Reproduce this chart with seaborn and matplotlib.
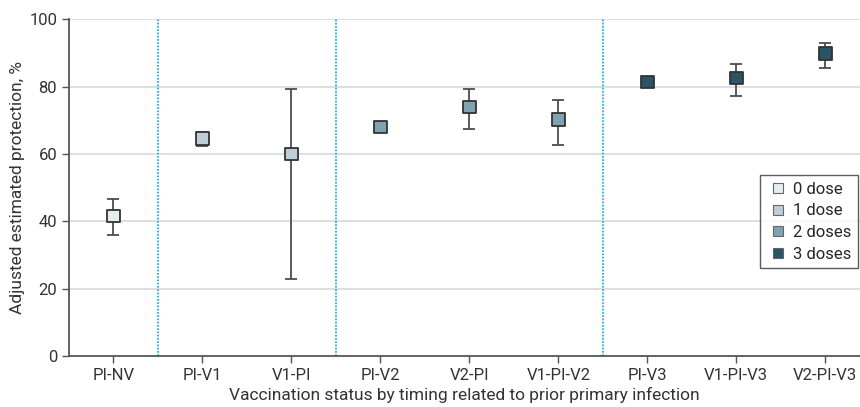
import pandas as pd
import matplotlib
matplotlib.use("Agg")
import matplotlib.pyplot as plt
import seaborn as sns

# values
groups = ['PI-NV', 'PI-V1', 'V1-PI', 'PI-V2', 'V2-PI', 'V1-PI-V2', 'PI-V3', 'V1-PI-V3', 'V2-PI-V3']
doses = ['0 dose', '1 dose', '1 dose', '2 doses', '2 doses', '2 doses', '3 doses', '3 doses', '3 doses']
estimate = [41.5, 64.6, 60.0, 67.9, 74.0, 70.2, 81.4, 82.6, 89.8]
lower = [35.9, 62.4, 22.8, 67.2, 67.5, 62.7, 80.6, 77.2, 85.6]
upper = [46.7, 66.6, 79.3, 68.8, 79.2, 76.1, 82.2, 86.7, 92.8]
dose_levels = ['0 dose', '1 dose', '2 doses', '3 doses']
dose_colors = ['#e6edf1', '#bcced8', '#7fa3b3', '#2b5465']

df = pd.DataFrame({'group': groups, 'dose': doses, 'est': estimate, 'lo': lower, 'hi': upper})
df['x'] = range(len(df))

sns.set_style('white')
plt.rcParams['font.family'] = ['Roboto', 'DejaVu Sans']

fig = plt.figure(figsize=(8.6, 4.07), dpi=100)
ax = fig.add_axes([0.0802, 0.1253, 0.9198, 0.8277])

# horizontal grid
for v in [20, 40, 60, 80, 100]:
    ax.axhline(v, color='#dcdcdc', lw=1.3, zorder=0)

# group separators
for xv in [0.5, 2.5, 5.5]:
    ax.axvline(xv, color='#1fb5e8', lw=1.3, ls=(0, (1, 0.8)), zorder=1)

# confidence intervals
ax.errorbar(df['x'], df['est'], yerr=[df['est'] - df['lo'], df['hi'] - df['est']],
            fmt='none', ecolor='#4d4d4d', elinewidth=1.3, capsize=4.5, capthick=1.3, zorder=2)

sns.scatterplot(data=df, x='x', y='est', hue='dose', hue_order=dose_levels,
                palette=dict(zip(dose_levels, dose_colors)), marker='s', s=80,
                edgecolor='#333333', linewidth=1.3, zorder=3, ax=ax)

ax.set_xlim(-0.5, 8.39)
ax.set_ylim(0, 100)
ax.set_xticks(df['x'])
ax.set_xticklabels(groups)
ax.set_yticks([0, 20, 40, 60, 80, 100])
ax.tick_params(axis='both', which='both', direction='out', length=5, width=1, color='#555555',
               labelsize=12, labelcolor='#333333', bottom=True, left=True)
ax.set_xlabel('Vaccination status by timing related to prior primary infection', fontsize=12.5,
              color='#333333', labelpad=3)
ax.set_ylabel('Adjusted estimated protection, %', fontsize=12.5, color='#333333', labelpad=3)

for s in ['top', 'right']:
    ax.spines[s].set_visible(False)
for s in ['left', 'bottom']:
    ax.spines[s].set_color('#555555')
    ax.spines[s].set_linewidth(1.3)

handles, labels = ax.get_legend_handles_labels()
for h in handles:
    h.set_markeredgecolor('#666666')
    h.set_markeredgewidth(0.8)
leg = ax.legend(handles, labels, loc='upper left', bbox_to_anchor=(0.8736, 0.537), frameon=True,
                fontsize=12, handletextpad=0.3, borderpad=0.4, labelspacing=0.4, fancybox=False,
                markerscale=0.85, handlelength=1.3, borderaxespad=0)
leg.get_frame().set_edgecolor('#333333')
leg.get_frame().set_linewidth(1.0)

fig.savefig('out.png', dpi=100)
